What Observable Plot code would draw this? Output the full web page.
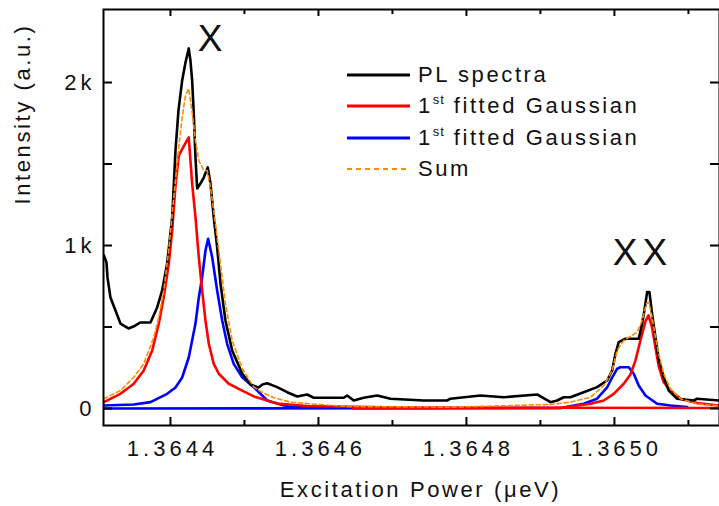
<!DOCTYPE html>
<html><head><meta charset="utf-8">
<script src="https://cdn.jsdelivr.net/npm/d3@7"></script>
<script src="https://cdn.jsdelivr.net/npm/@observablehq/plot@0.6"></script>
<style>
body{margin:0;background:#fff;}
#wrap{position:relative;width:719px;height:506px;overflow:hidden;font-family:"Liberation Sans",Arial,sans-serif;}
#legend{position:absolute;left:347px;top:59px;}
.row{display:flex;align-items:center;height:31.5px;font-size:22px;letter-spacing:2.6px;color:#111;}
.row span{margin-left:8px;white-space:nowrap;}
.row sup{font-size:13px;letter-spacing:1px;vertical-align:baseline;position:relative;top:-9px;}
</style></head>
<body>
<div id="wrap"><div id="legend"></div></div>
<script>
// ---- data ----
const xDomain = [1.3643095, 1.365142];
const yDomain = [-104.3, 2447.9];
const xMajorTicks = [1.3644, 1.3646, 1.3648, 1.3650];
const xMinorTicks = [1.3645, 1.3647, 1.3649, 1.3651];
const yMajorTicks = [0, 1000, 2000];
const yMajorLabels = ["0", "1k", "2k"];
const yMinorTicks = [500, 1500];

const plX = [1.3643101,1.3643135,1.3643149,1.3643189,1.3643257,1.3643324,1.3643432,1.36435,1.3643595,1.364373,
 1.364382,1.3643888,1.3643955,1.3644023,1.3644068,1.3644108,1.3644158,1.3644203,1.3644247,1.364427,
 1.3644293,1.3644315,1.3644338,1.3644361,1.3644405,1.364445,1.3644504,1.3644541,1.3644585,1.3644631,
 1.3644676,1.3644743,1.3644834,1.3644969,1.3645081,1.3645189,1.3645243,1.3645307,1.3645442,1.3645577,
 1.3645712,1.3645847,1.3645936,1.3646342,1.3646388,1.3646477,1.3646612,1.3646793,1.3646973,1.3647423,
 1.3647739,1.3647784,1.3648189,1.3648504,1.3648955,1.3649135,1.3649226,1.3649315,1.3649405,1.3649585,
 1.3649766,1.3649901,1.3649969,1.3650014,1.3650058,1.3650149,1.3650328,1.3650374,1.3650405,1.3650442,
 1.3650473,1.3650509,1.3650554,1.3650599,1.3650666,1.3650734,1.3650847,1.3651072,1.3651118,1.3651419];
const plY = [939,896,804,681,601,521,491,503,528,528,
 620,724,890,1172,1583,1828,2012,2123,2209,2135,
 2012,1810,1540,1350,1380,1417,1479,1380,1172,988,
 767,540,356,215,147,129,147,155,131,100,
 74,86,66,66,80,49,66,80,60,49,
 49,60,80,69,86,39,49,69,69,100,
 131,172,233,336,407,428,428,520,601,714,
 714,581,437,305,192,110,60,49,60,49];

const redXX = [1.3643099,1.3643324,1.3643504,1.3643639,1.3643753,1.3643842,1.3643909,1.3643977,1.3644023,1.3644068,
 1.3644112,1.3644176,1.3644247,1.3644293,1.3644338,1.3644383,1.3644428,1.3644473,1.3644518,1.3644585,
 1.3644653,1.3644788,1.3644969,1.3645149,1.3645442,1.3645847,1.3647108,1.3651419];
const redXY = [39,90,152,233,356,520,683,888,1092,1368,
 1552,1607,1663,1379,1174,928,724,540,397,274,
 213,152,110,70,31,15,6,3];

const blueXX = [1.3643095,1.3643504,1.364373,1.3643955,1.3644068,1.3644158,1.3644247,1.3644338,1.3644383,1.3644428,
 1.3644473,1.3644509,1.3644564,1.3644631,1.3644699,1.3644766,1.3644855,1.3644969,1.3645149,1.3645307,
 1.3645531,1.3645892];
const blueXY = [18,25,39,90,129,190,313,521,681,804,
 969,1041,928,724,540,397,274,192,121,49,
 18,6];

const blueXXX = [1.3643095,1.364927,1.3649585,1.3649766,1.3649901,1.3649969,1.3650037,1.3650081,1.3650194,1.3650261,
 1.3650328,1.3650419,1.3650577,1.3650757,1.3650983];
const blueXXY = [0,3,29,60,129,190,244,253,253,213,141,80,29,18,9];

const redXXX = [1.3646473,1.364927,1.3649676,1.3649856,1.3649991,1.3650126,1.3650216,1.3650284,1.3650351,1.3650419,
 1.365046,1.3650509,1.3650554,1.3650599,1.3650666,1.3650757,1.3650892,1.3651118,1.3651419];
const redXXY = [0,3,29,49,90,152,209,294,417,534,571,497,376,258,161,110,60,33,18];

const sumX = [1.3643099,1.3643324,1.3643504,1.3643639,1.3643774,1.3643842,1.3643909,1.3643977,1.3644045,1.3644112,
 1.3644158,1.3644203,1.3644247,1.3644293,1.3644338,1.3644383,1.364445,1.3644496,1.3644541,1.3644608,
 1.3644676,1.3644743,1.3644834,1.3644969,1.3645126,1.3645261,1.3645396,1.3645622,1.3645982,1.3646432,
 1.3647784,1.3649135,1.3649405,1.3649676,1.3649856,1.3649969,1.3650037,1.3650126,1.3650307,1.3650374,
 1.3650432,1.3650464,1.3650509,1.3650554,1.3650599,1.3650666,1.3650757,1.3650892,1.3651118,1.3651388];
const sumY = [60,110,192,274,437,560,724,969,1296,1603,
 1787,1920,1963,1816,1644,1521,1460,1460,1358,1133,
 888,642,417,245,131,94,66,39,25,12,
 8,25,39,69,141,233,356,417,468,540,
 642,652,560,437,336,213,121,60,29,18];

const peakLabels = ["X", "XX"];
const peakLabelX = [1.3644541, 1.3650351];
const peakLabelY = [2267, 951];

const legendLabels = ["PL spectra", "1st fitted Gaussian", "1st fitted Gaussian", "Sum"];
const legendColors = ["#000000", "#ff0000", "#0000ff", "#ff8c00"];
const legendDash = [null, null, null, "5,4"];

const xTitle = "Excitation Power (\u03bceV)";
const yTitle = "Intensity (a.u.)";

// ---- build ----
const zip = (xs, ys) => xs.map((x, i) => ({x, y: ys[i]}));
const W = 719, H = 506, mL = 103, mR = 0, mT = 9, mB = 81;
const pw = W - mL - mR, ph = H - mT - mB;
const txt = "#111";
const fmt = d3.format(".4f");

const chart = Plot.plot({
  width: W, height: H,
  marginLeft: mL, marginRight: mR, marginTop: mT, marginBottom: mB,
  style: {fontFamily: '"Liberation Sans", Arial, sans-serif', background: "white", overflow: "visible"},
  x: {domain: xDomain, axis: null},
  y: {domain: yDomain, axis: null},
  marks: [
    Plot.line(zip(blueXXX, blueXXY), {x: "x", y: "y", stroke: "#0000ff", strokeWidth: 2.6, clip: true}),
    Plot.line(zip(redXXX, redXXY), {x: "x", y: "y", stroke: "#ff0000", strokeWidth: 2.6, clip: true}),
    Plot.line(zip(blueXX, blueXY), {x: "x", y: "y", stroke: "#0000ff", strokeWidth: 2.6, clip: true}),
    Plot.line(zip(redXX, redXY), {x: "x", y: "y", stroke: "#ff0000", strokeWidth: 2.6, clip: true}),
    Plot.line(zip(plX, plY), {x: "x", y: "y", stroke: "#000000", strokeWidth: 2.6, clip: true}),
    Plot.line(zip(sumX, sumY), {x: "x", y: "y", stroke: "#ff8c00", strokeWidth: 1.6, strokeDasharray: "4,3", clip: true}),
    Plot.frame({stroke: "#000", strokeWidth: 2}),
    Plot.ruleX(xMajorTicks, {x: d => d, insetTop: ph - 8, stroke: "#000", strokeWidth: 2}),
    Plot.ruleX(xMinorTicks, {x: d => d, insetTop: ph - 5, stroke: "#000", strokeWidth: 2}),
    Plot.ruleX(xMajorTicks, {x: d => d, insetBottom: ph - 7, stroke: "#000", strokeWidth: 2}),
    Plot.ruleX(xMinorTicks, {x: d => d, insetBottom: ph - 5, stroke: "#000", strokeWidth: 2}),
    Plot.ruleY(yMajorTicks.concat(yMinorTicks), {y: d => d, insetRight: pw - 9, stroke: "#000", strokeWidth: 2}),
    Plot.ruleY(yMajorTicks.concat(yMinorTicks), {y: d => d, insetLeft: pw - 9, stroke: "#000", strokeWidth: 2}),
    Plot.text(xMajorTicks, {x: d => d, text: d => fmt(d), frameAnchor: "bottom", dx: 2, dy: 23, lineAnchor: "middle", fontSize: 22, fill: txt}),
    Plot.text(yMajorTicks, {y: d => d, text: (d, i) => yMajorLabels[i], frameAnchor: "left", dx: -8, textAnchor: "end", lineAnchor: "middle", fontSize: 22, fill: txt}),
    Plot.text([xTitle], {text: d => d, frameAnchor: "bottom", dx: 9, dy: 64, lineAnchor: "middle", fontSize: 22, fill: txt}),
    Plot.text([yTitle], {text: d => d, frameAnchor: "left", dx: -81, dy: -13, rotate: -90, lineAnchor: "middle", fontSize: 22, fill: txt}),
    Plot.text(peakLabels, {x: (d, i) => peakLabelX[i], y: (d, i) => peakLabelY[i], text: d => d, dx: 2, fontSize: 37, lineAnchor: "middle", fill: txt})
  ]
});

const tickTexts = new Set(xMajorTicks.map(fmt).concat(yMajorLabels));
const titleTexts = new Set([xTitle, yTitle]);
d3.select(chart).selectAll("text").each(function() {
  const t = this.textContent;
  if (tickTexts.has(t)) this.setAttribute("letter-spacing", "4px");
  else if (titleTexts.has(t)) this.setAttribute("letter-spacing", "2.6px");
  else if (peakLabels.includes(t)) this.setAttribute("letter-spacing", "5px");
});

const wrap = document.getElementById("wrap");
wrap.insertBefore(chart, wrap.firstChild);

const legend = d3.select("#legend");
legendLabels.forEach((lab, i) => {
  const row = legend.append("div").attr("class", "row");
  const s = row.append("svg").attr("width", 63).attr("height", 20);
  s.append("line").attr("x1", 0).attr("x2", 63).attr("y1", 10).attr("y2", 10)
    .attr("stroke", legendColors[i]).attr("stroke-width", legendDash[i] ? 2 : 3)
    .attr("stroke-dasharray", legendDash[i]);
  const sp = row.append("span");
  const m = lab.match(/^(\d)(st|nd|rd|th)(.*)$/);
  if (m) {
    sp.append("tspan").text(m[1]);
    sp.append("sup").text(m[2]);
    sp.append("tspan").text(m[3]);
  } else sp.text(lab);
});
</script>
</body></html>
